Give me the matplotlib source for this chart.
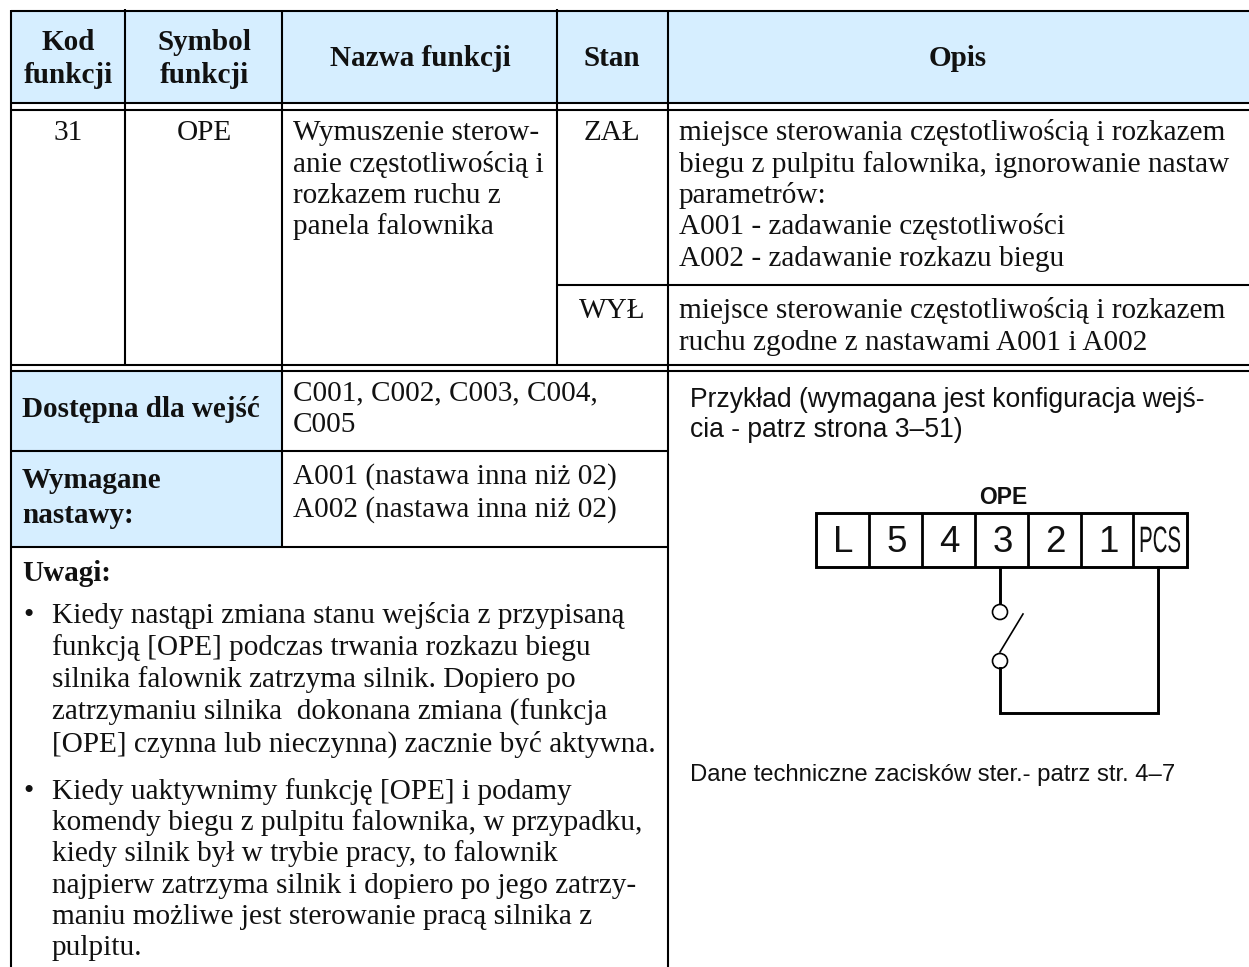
import matplotlib
matplotlib.use("Agg")
import matplotlib.pyplot as plt
from matplotlib.patches import Rectangle, Circle
from matplotlib.patheffects import AbstractPathEffect
from matplotlib.transforms import Affine2D

SERIF = ["Liberation Serif", "DejaVu Serif"]
SANS = ["Liberation Sans", "DejaVu Sans"]
FILL = "#d6eeff"

headers = ["Kod\nfunkcji", "Symbol\nfunkcji", "Nazwa funkcji", "Stan", "Opis"]
code = "31"
symbol = "OPE"
name_lines = ["Wymuszenie sterow-", "anie częstotliwością i", "rozkazem ruchu z", "panela falownika"]
state_on = "ZAŁ"
state_off = "WYŁ"
on_lines = ["miejsce sterowania częstotliwością i rozkazem",
            "biegu z pulpitu falownika, ignorowanie nastaw",
            "parametrów:",
            "A001 - zadawanie częstotliwości",
            "A002 - zadawanie rozkazu biegu"]
off_lines = ["miejsce sterowanie częstotliwością i rozkazem",
             "ruchu zgodne z nastawami A001 i A002"]
avail_label = "Dostępna dla wejść"
avail_lines = ["C001, C002, C003, C004,", "C005"]
req_label = ["Wymagane", "nastawy:"]
req_lines = ["A001 (nastawa inna niż 02)", "A002 (nastawa inna niż 02)"]
notes_title = "Uwagi:"
note1 = ["Kiedy nastąpi zmiana stanu wejścia z przypisaną",
         "funkcją [OPE] podczas trwania rozkazu biegu",
         "silnika falownik zatrzyma silnik. Dopiero po",
         "zatrzymaniu silnika  dokonana zmiana (funkcja",
         "[OPE] czynna lub nieczynna) zacznie być aktywna."]
note2 = ["Kiedy uaktywnimy funkcję [OPE] i podamy",
         "komendy biegu z pulpitu falownika, w przypadku,",
         "kiedy silnik był w trybie pracy, to falownik",
         "najpierw zatrzyma silnik i dopiero po jego zatrzy-",
         "maniu możliwe jest sterowanie pracą silnika z",
         "pulpitu."]
example_lines = ["Przykład (wymagana jest konfiguracja wejś-", "cia - patrz strona 3–51)"]
terminal_title = "OPE"
terminals = ["L", "5", "4", "3", "2", "1"]
terminal_last = "PCS"
footer = "Dane techniczne zacisków ster.- patrz str. 4–7"

W, H = 1249, 967
fig = plt.figure(figsize=(W / 100, H / 100), dpi=100)
ax = fig.add_axes([0, 0, 1, 1])
ax.set_xlim(0, W)
ax.set_ylim(H, 0)
ax.axis("off")

LW = 1.5
XL, X1, X2, X3, X4, XR = 11, 125, 282, 557, 668, W
FS = 21.1
FS_H = 21.0


def px(text, x, y, fs=FS, weight="normal", ha="left", family=SERIF, **kw):
    return ax.text(x, y, text, fontsize=fs, fontweight=weight, ha=ha, va="baseline",
                   family=family, color="#111111", **kw)


def lines(rows, x, y, step=31.5, **kw):
    for i, row in enumerate(rows):
        px(row, x, y + i * step, **kw)


def hl(y, x0=XL, x1=XR, lw=LW):
    ax.plot([x0, x1], [y, y], color="black", lw=lw, solid_capstyle="butt")


def vl(x, y0, y1, lw=LW):
    ax.plot([x, x], [y0, y1], color="black", lw=lw, solid_capstyle="butt")


# fills
ax.add_patch(Rectangle((XL, 11), XR - XL, 92, color=FILL, lw=0))
ax.add_patch(Rectangle((XL, 371), X2 - XL, 176, color=FILL, lw=0))

# rules
hl(11); hl(103); hl(109.5); hl(365); hl(371)
hl(285, X3, XR)
hl(451, XL, X4); hl(547, XL, X4)
vl(XL, 10, H)
vl(X1, 9, 365)
vl(X2, 11, 547)
vl(X3, 9, 365)
vl(X4, 11, H)

# header
px("Kod", 68, 50, fs=FS_H, weight="bold", ha="center")
px("funkcji", 68, 83, fs=FS_H, weight="bold", ha="center")
px("Symbol", 204, 50, fs=FS_H, weight="bold", ha="center")
px("funkcji", 204, 83, fs=FS_H, weight="bold", ha="center")
px(headers[2], 420, 66, fs=FS_H, weight="bold", ha="center")
px(headers[3], 612, 66, fs=FS_H, weight="bold", ha="center")
px(headers[4], 958, 66, fs=FS_H, weight="bold", ha="center")

# row
px(code, 68, 140, ha="center")
px(symbol, 204, 140, ha="center")
lines(name_lines, 293, 140)
px(state_on, 612, 140, ha="center")
px(state_off, 612, 318, ha="center")
lines(on_lines, 679, 140)
lines(off_lines, 679, 318)

# lower left
px(avail_label, 22, 417, fs=FS_H, weight="bold")
lines(req_label, 22, 488, step=35, fs=FS_H, weight="bold")
lines(avail_lines, 293, 400)
lines(req_lines, 293, 484, step=33)
px(notes_title, 22, 581, fs=FS_H, weight="bold")
px("•", 23, 623)
lines(note1, 52, 623, step=32.2)
px("•", 23, 799)
lines(note2, 52, 799, step=31.2)

# right
lines(example_lines, 690, 407, step=30, fs=19.1, family=SANS)
px(footer, 690, 781, fs=17.2, family=SANS)


class VStretch(AbstractPathEffect):
    def __init__(self, k):
        super().__init__()
        self.k = k

    def draw_path(self, renderer, gc, tpath, affine, rgbFace=None):
        renderer.draw_path(gc, tpath, Affine2D().scale(1, self.k) + affine, rgbFace)


# terminal strip
bx = [816, 869, 922, 975, 1028, 1081, 1133, 1187]
BT, BB = 513, 567
ax.add_patch(Rectangle((bx[0], BT), bx[-1] - bx[0], BB - BT, fill=False, ec="black", lw=2.1))
for x in bx[1:-1]:
    vl(x, BT, BB, lw=2.0)
for t, x0, x1 in zip(terminals, bx, bx[1:]):
    px(t, (x0 + x1) / 2 + 1, 552, fs=26.5, ha="center", family=SANS)
tx = px(terminal_last, (bx[-2] + bx[-1]) / 2, 552, fs=14.7, ha="center", family=SANS)
tx.set_path_effects([VStretch(1.8)])
px(terminal_title, 1003, 504, fs=16.5, weight="bold", ha="center", family=SANS)

# wiring
WL = 2.1
vl(1000, BB, 604, lw=WL)
ax.add_patch(Circle((1000, 612), 7.5, fill=False, ec="black", lw=1.2))
ax.add_patch(Circle((1000, 661), 7.5, fill=False, ec="black", lw=1.2))
ax.plot([1000, 1023], [652, 614], color="black", lw=1.2)
ax.plot([1000, 1000, 1158, 1158], [668, 713, 713, BB], color="black", lw=WL, solid_joinstyle="miter")

fig.savefig("out.png", dpi=100)
